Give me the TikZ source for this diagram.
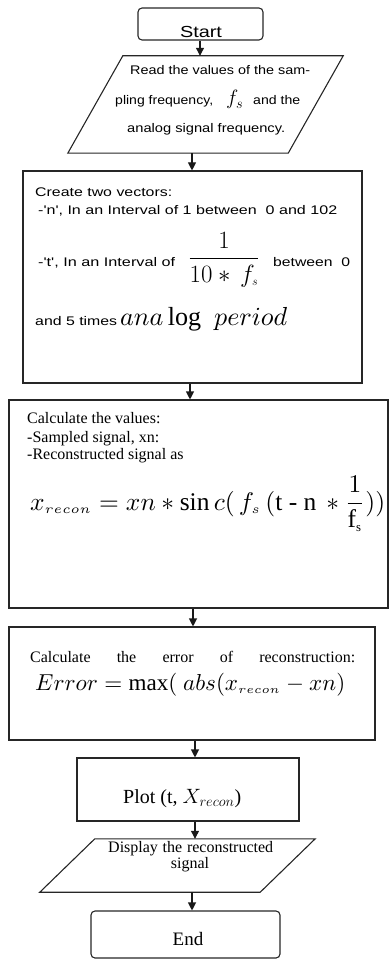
\documentclass[tikz,border=0pt]{standalone}
\usepackage{amsmath}
\usepackage[no-math]{fontspec}
\setmainfont{Liberation Serif}
\newfontfamily\arial{Liberation Sans}
\newfontfamily\tms{Liberation Serif}
\usepackage{graphicx}
\usetikzlibrary{arrows.meta}
\newcommand{\fs}[1]{\fontsize{#1}{#1}\selectfont}
\newcommand{\sw}[2]{\resizebox{#1}{\height}{#2}}
\newcommand{\up}[1]{\text{\tms #1}}
\begin{document}
\begin{tikzpicture}[x=1pt,y=-1pt,
  shapebox/.style={draw=black!85, line width=1.1pt, inner sep=0pt},
  ghost/.style={inner sep=0pt},
  lbl/.style={inner sep=0pt, anchor=base west},
  sans/.style={font=\arial\fs{12.5}},
  arr/.style={-{Triangle[length=8pt,width=8pt]}, line width=1.1pt, draw=black!90}]
\useasboundingbox (0,0) rectangle (389,960);
% shapes
\node[shapebox, rounded corners=4pt, minimum width=125pt, minimum height=32pt] (start) at (200.5,24) {};
\node[ghost, minimum width=275pt, minimum height=97pt] (p1) at (205.5,104.5) {};
\draw[line width=1.1pt, draw=black!85] ([xshift=55pt]p1.north west) -- (p1.north east) -- ([xshift=-55pt]p1.south east) -- (p1.south west) -- cycle;
\node[shapebox, minimum width=339pt, minimum height=212pt] (b2) at (192.5,277) {};
\node[shapebox, minimum width=379pt, minimum height=208pt] (b3) at (198.5,504) {};
\node[shapebox, minimum width=366pt, minimum height=113pt] (b4) at (192,683.5) {};
\node[shapebox, minimum width=222pt, minimum height=63pt] (b5) at (188,789.5) {};
\node[ghost, minimum width=275pt, minimum height=53pt] (p2) at (177.5,865.5) {};
\draw[line width=1.1pt, draw=black!85] ([xshift=55pt]p2.north west) -- (p2.north east) -- ([xshift=-55pt]p2.south east) -- (p2.south west) -- cycle;
\node[shapebox, rounded corners=4pt, minimum width=189pt, minimum height=47pt] (end) at (185.5,934.5) {};
% arrow x positions
\coordinate (ax1) at (200,0);
\coordinate (ax2) at (192,0);
\coordinate (ax3) at (190,0);
\coordinate (ax4) at (193,0);
\coordinate (ax5) at (195,0);
\coordinate (ax6) at (195,0);
\coordinate (ax7) at (192,0);
\draw[arr] (start.south -| ax1) -- (p1.north -| ax1);
\draw[arr] (p1.south -| ax2) -- (b2.north -| ax2);
\draw[arr] (b2.south -| ax3) -- (b3.north -| ax3);
\draw[arr] (b3.south -| ax4) -- (b4.north -| ax4);
\draw[arr] (b4.south -| ax5) -- (b5.north -| ax5);
\draw[arr] (b5.south -| ax6) -- (p2.north -| ax6);
\draw[arr] (p2.south -| ax7) -- (end.north -| ax7);
% texts
\node[lbl, anchor=base] (tstart) at (201,38) {\arial\fs{16}\sw{42pt}{Start}};
\node[lbl, sans] (t1a) at (130,75) {\sw{180pt}{Read the values of the sam-}};
\node[lbl, sans] (t1b) at (115,105) {\sw{98pt}{pling frequency,}};
\node[lbl] (t1c) at (226,105) {\fs{22}$f_{s}$};
\node[lbl, sans] (t1d) at (253,105) {\sw{47pt}{and the}};
\node[lbl, sans] (t1e) at (127,133) {\sw{158pt}{analog signal frequency.}};
\node[lbl, sans] (t2a) at (35,196) {\sw{137pt}{Create two vectors:}};
\node[lbl, sans] (t2b) at (38,214) {\sw{299pt}{-'n', In an Interval of 1 between \ 0 and 102}};
\node[lbl, sans] (t2c) at (38,266) {\sw{137pt}{-'t', In an Interval of}};
\node[lbl, anchor=base] (t2d) at (224,265) {\fs{25}$\dfrac{1}{10*\,f_{\scriptscriptstyle s}}$};
\node[lbl, sans] (t2e) at (273,266) {\sw{77pt}{between \ 0}};
\node[lbl, sans] (t2f) at (35,325) {\sw{82pt}{and 5 times}};
\node[lbl] (t2g) at (120,325) {\resizebox{167pt}{!}{$ana\,\up{log}\ \ period$}};
\node[lbl] (t3a) at (27,423) {\fs{16}Calculate the values:};
\node[lbl] (t3b) at (27,442) {\fs{16}-Sampled signal, xn:};
\node[lbl] (t3c) at (27,459) {\fs{16}-Reconstructed signal as};
\node[lbl] (t3d) at (30,510) {\resizebox{355pt}{!}{$x_{\scriptscriptstyle recon} = xn * \up{sin}\,c(\,f_{\scriptscriptstyle s}\,(\up{t - n}\, * \dfrac{1}{\up{f}_{\scriptscriptstyle \up{s}}}))$}};
\node[lbl] (t4a) at (30,662) {\fs{16}\makebox[325pt][s]{Calculate the error of reconstruction:}};
\node[lbl] (t4b) at (35,690) {\resizebox{310pt}{!}{$Error = \up{max}(\ abs(x_{\scriptscriptstyle recon} - xn)$}};
\node[lbl] (t5) at (123,803) {\fs{20}Plot (t, $X_{recon}$)};
\node[lbl] (t6a) at (108,852) {\fs{16}\makebox[165pt][s]{Display the reconstructed}};
\node[lbl, anchor=base] (t6b) at (190,868) {\fs{16}signal};
\node[lbl, anchor=base] (tend) at (188,945) {\fs{19}End};
\end{tikzpicture}
\end{document}
